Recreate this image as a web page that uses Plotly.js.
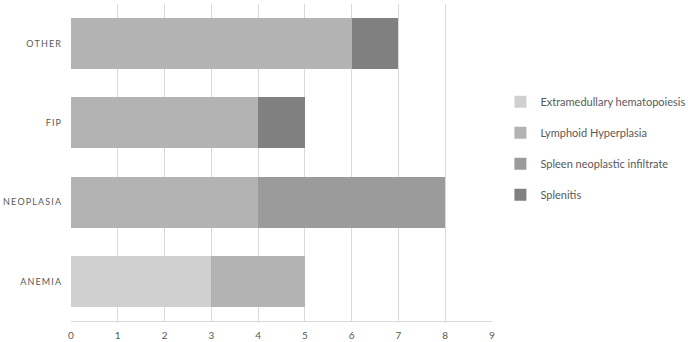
<!DOCTYPE html>
<html>
<head>
<meta charset="utf-8">
<script src="https://cdn.plot.ly/plotly-3.0.1.min.js"></script>
<style>html,body{margin:0;padding:0;background:#fff;}#chart{width:688px;height:342px;}</style>
</head>
<body>
<div id="chart"></div>
<script>
const categories = ["ANEMIA", "NEOPLASIA", "FIP", "OTHER"];
const categoryLabels = ["A\u2009N\u2009E\u2009M\u2009I\u2009A", "N\u2009E\u2009O\u2009P\u2009L\u2009A\u2009S\u2009I\u2009A", "F\u2009I\u2009P", "O\u2009T\u2009H\u2009E\u2009R"];
const seriesNames = ["Extramedullary hematopoiesis", "Lymphoid Hyperplasia", "Spleen neoplastic infiltrate", "Splenitis"];
const extramedullary = [3, 0, 0, 0];
const lymphoid = [2, 4, 4, 6];
const spleenNeoplastic = [0, 4, 0, 0];
const splenitis = [0, 0, 1, 1];
const xTicks = [0, 1, 2, 3, 4, 5, 6, 7, 8, 9];

const colors = ["#d0d0d0", "#b3b3b3", "#9b9b9b", "#808080"];
const values = [extramedullary, lymphoid, spleenNeoplastic, splenitis];

const traces = seriesNames.map((name, i) => ({
  type: "bar",
  orientation: "h",
  name: name,
  y: categories,
  x: values[i],
  legendgroup: "g" + i,
  marker: { color: colors[i], line: { width: 0 } },
  hoverinfo: "x+name"
}));

const layout = {
  width: 688,
  height: 342,
  margin: { l: 71, r: 196, t: 4, b: 21, autoexpand: false },
  paper_bgcolor: "#ffffff",
  plot_bgcolor: "#ffffff",
  barmode: "stack",
  bargap: 0.355,
  font: { family: "Lato, 'Open Sans', sans-serif", color: "#595959" },
  xaxis: {
    range: [0, 9],
    tickvals: xTicks,
    ticktext: xTicks.map(String),
    showgrid: true,
    gridcolor: "#d9d9d9",
    gridwidth: 1,
    zeroline: false,
    showline: true,
    linecolor: "#d9d9d9",
    linewidth: 1,
    ticks: "",
    ticklabelstandoff: 5,
    tickfont: { size: 10, color: "#595959" },
    automargin: false,
    fixedrange: true
  },
  yaxis: {
    categoryorder: "array",
    categoryarray: categories,
    tickvals: categories,
    ticktext: categoryLabels,
    showgrid: false,
    zeroline: false,
    showline: false,
    ticks: "",
    ticklabelstandoff: 9,
    tickfont: { size: 9, color: "#595959" },
    automargin: false,
    fixedrange: true
  },
  legend: {
    x: 1.02,
    xanchor: "left",
    y: 0.545,
    yanchor: "middle",
    traceorder: "grouped",
    tracegroupgap: 12,
    font: { size: 11, color: "#595959" },
    itemwidth: 30,
    bgcolor: "rgba(0,0,0,0)"
  },
  showlegend: true
};

Plotly.newPlot("chart", traces, layout, { displayModeBar: false, staticPlot: true });
</script>
</body>
</html>
